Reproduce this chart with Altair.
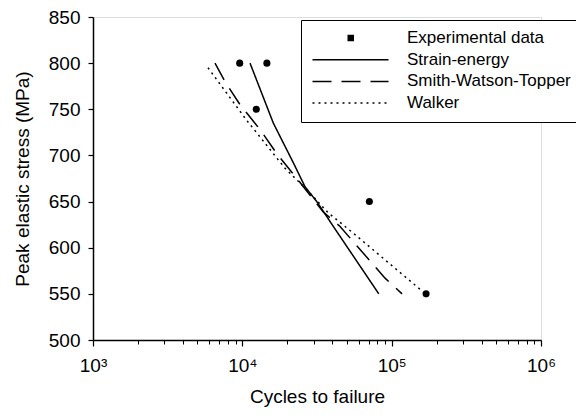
import altair as alt
import pandas as pd

# ---------------- data ----------------
exp_cycles = [9600, 14600, 12400, 70900, 170000]
exp_stress = [800, 800, 750, 650, 550]

se_cycles = [11260, 16130, 21960, 26300, 31500, 40700, 82000]
se_stress = [800, 735, 692, 666, 650, 623, 550]

swt_cycles = [6560, 7660, 9650, 13140, 17000, 23720, 34720, 45120, 90320, 117400]
swt_stress = [800, 780, 755, 728, 702, 673, 639, 623, 567, 550]

walker_cycles = [5890, 10700, 13140, 19320, 27000, 37500, 55130, 93150, 160000]
walker_stress = [795, 738, 720, 686, 663, 638, 616, 585, 553]

series_names = ["Experimental data", "Strain-energy", "Smith-Watson-Topper", "Walker"]
# legend glyph for the data entry: one short thick dash in the middle = a dot
series_dash = [[0, 35, 6.5, 100], [1, 0], [19, 10], [2, 4]]
series_width = [6.5, 1.5, 1.5, 1.5]

x_major = [1000, 10000, 100000, 1000000]
x_major_labels = ["10³", "10⁴", "10⁵", "10⁶"]
x_minor = [m * d for d in [1000, 10000, 100000] for m in range(2, 10)]
y_ticks = [500, 550, 600, 650, 700, 750, 800, 850]

FONT = "Liberation Sans"

exp_df = pd.DataFrame({"N": exp_cycles, "S": exp_stress, "series": series_names[0]})
lines_df = pd.concat([
    pd.DataFrame({"N": se_cycles, "S": se_stress, "series": series_names[1]}),
    pd.DataFrame({"N": swt_cycles, "S": swt_stress, "series": series_names[2]}),
    pd.DataFrame({"N": walker_cycles, "S": walker_stress, "series": series_names[3]}),
], ignore_index=True)

label_expr = "''"
for v, l in reversed(list(zip(x_major, x_major_labels))):
    label_expr = f"datum.value == {v} ? '{l}' : ({label_expr})"

x_scale = alt.Scale(type="log", domain=[x_major[0], x_major[-1]], nice=False)
y_scale = alt.Scale(domain=[y_ticks[0], y_ticks[-1]], nice=False, zero=False)

y_enc = alt.Y("S:Q", scale=y_scale, axis=alt.Axis(
    title="Peak elastic stress (MPa)", values=y_ticks, grid=False,
    tickSize=5, labelPadding=8, titlePadding=16, labelFlush=False, labelOverlap=False,
    labelFontSize=19, titleFontSize=19, titleFontWeight="normal",
    labelFont=FONT, titleFont=FONT, labelColor="black", titleColor="black",
    domainColor="black", tickColor="black", domainWidth=1.5, tickWidth=1.2))

legend = alt.Legend(
    title=None, orient="none", legendX=208, legendY=3, padding=8,
    symbolType="stroke", symbolSize=5776,
    symbolStrokeColor="black", labelFont=FONT, labelFontSize=17,
    labelColor="black", labelOffset=15, clipHeight=20, rowPadding=1.7,
    strokeColor="black", fillColor="white", cornerRadius=0, labelLimit=400,
)

lines = alt.Chart(lines_df).mark_line(color="black", strokeCap="butt").encode(
    x=alt.X("N:Q", scale=x_scale, axis=alt.Axis(
        title="Cycles to failure", values=x_major, labelExpr=label_expr,
        labelFlush=False, labelOverlap=False,
        grid=False, tickSize=6, labelPadding=10, titlePadding=12, orient="bottom",
        labelFontSize=19, titleFontSize=19, titleFontWeight="normal",
        labelFont=FONT, titleFont=FONT, labelColor="black", titleColor="black",
        domainColor="black", tickColor="black", domainWidth=1.5, tickWidth=1.2)),
    y=y_enc,
    strokeDash=alt.StrokeDash("series:N", scale=alt.Scale(domain=series_names, range=series_dash),
                              legend=legend),
    strokeWidth=alt.StrokeWidth("series:N", scale=alt.Scale(type="ordinal", domain=series_names,
                                                            range=series_width),
                                legend=legend),
)

points = alt.Chart(exp_df).mark_point(filled=True, color="black", size=50, opacity=1).encode(
    x=alt.X("N:Q", scale=x_scale, axis=alt.Axis(
        title=None, values=x_minor, labels=False, grid=False, domain=False,
        tickSize=4, tickColor="black", tickWidth=1, orient="bottom")),
    y=y_enc,
)

chart = alt.layer(lines, points).resolve_axis(x="independent").properties(
    width=448, height=323,
    autosize=alt.AutoSizeParams(type="none"),
    padding={"left": 85, "top": 9, "right": 35, "bottom": 70},
).configure_view(stroke="black", strokeWidth=1.5).configure(background="white")

chart.save("out.html", embed_options={"renderer": "svg", "actions": False})
